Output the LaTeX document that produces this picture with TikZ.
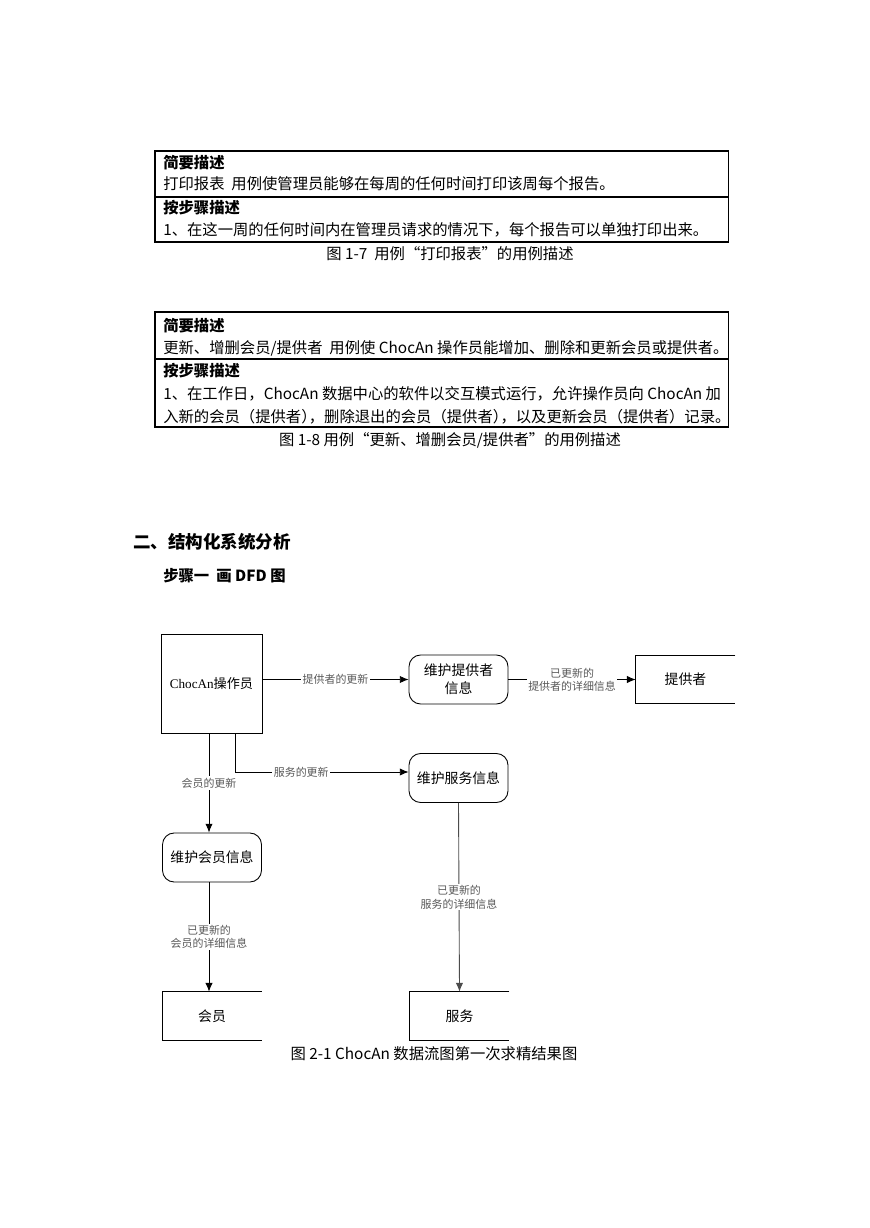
\documentclass[tikz,border=0pt]{standalone}
\usepackage{fontspec}
\setmainfont{Noto Sans CJK SC}
\newfontfamily\latinserif{Liberation Serif}
\usepackage{tikz}
\usetikzlibrary{shapes,arrows,arrows.meta}
\usetikzlibrary{calc,positioning}
\tikzset{
        tbl/.style = {draw, line width=0.7pt},
        txt/.style = {anchor=base west, inner sep=0pt,
            font=\fontsize{10.5}{12}\selectfont},
        figcaption/.style = {anchor=base, inner sep=0pt,
            font=\fontsize{10.5}{12}\selectfont},
        entity/.style = {draw, rectangle, line width=0.6pt,
            minimum width=69.2pt,
            minimum height=67.8pt,
            font=\fontsize{9}{11}\selectfont},
        process/.style = {draw, rectangle, rounded corners=8pt, line width=0.6pt,
            minimum width=67.8pt,
            minimum height=33.6pt, align=center,
            font=\fontsize{9.5}{12}\selectfont},
        store/.style = {rectangle, minimum width=67.8pt,
            minimum height=32.9pt,
            font=\fontsize{9.5}{12}\selectfont},
        arrow/.style={draw, -{Latex[length=6pt,width=5pt]}, line width=0.6pt},
        flow/.style = {fill=white, inner sep=1pt, align=center,
            text=black!65, font=\fontsize{7.5}{9}\selectfont},
    }
\newcommand{\pk}{\kern-0.5em}

\begin{document}
\begin{tikzpicture}[x=0.685pt,y=-0.685pt]
    \useasboundingbox[fill=white] (0,0) rectangle (869,1228);

    % table 1-7
    \draw[tbl] (155,151) rectangle (728,242);
    \draw[tbl] (155,197) -- (728,197);
    \node[txt] (briefa) at (163,169) {\textbf{简要描述}};
    \node[txt] (brieftexta) at (163,190) {打印报表\ \ 用例使管理员能够在每周的任何时间打印该周每个报告。};
    \node[txt] (stepsa) at (163,214) {\textbf{按步骤描述}};
    \node[txt] (stepstexta) at (163,236) {1、在这一周的任何时间内在管理员请求的情况下，每个报告可以单独打印出来。};
    \node[figcaption] (capa) at (450,260) {图 1-7\ \ 用例“打印报表”的用例描述};

    % table 1-8
    \draw[tbl] (155,312) rectangle (728,427);
    \draw[tbl] (155,359) -- (728,359);
    \node[txt] (briefb) at (163,331) {\textbf{简要描述}};
    \node[txt] (brieftextb) at (163,353) {更新、增删会员/提供者\ \ 用例使 ChocAn 操作员能增加、删除和更新会员或提供者。};
    \node[txt] (stepsb) at (163,376) {\textbf{按步骤描述}};
    \node[txt] (stepstextb) at (163,399) {1、在工作日，ChocAn 数据中心的软件以交互模式运行，允许操作员向 ChocAn 加};
    \node[txt] (stepstextc) at (163,422) {入新的会员（提供者）\pk，删除退出的会员（提供者）\pk，以及更新会员（提供者）记录。};
    \node[figcaption] (capb) at (450,445) {图 1-8 用例“更新、增删会员/提供者”的用例描述};

    % headings
    \node[anchor=base west, inner sep=0pt, font=\fontsize{12}{14}\selectfont\bfseries] (sect) at (133,548) {二、结构化系统分析};
    \node[anchor=base west, inner sep=0pt, font=\fontsize{10.5}{12}\selectfont\bfseries] (stepone) at (163,581) {步骤一\ \ 画 DFD 图};

    % DFD
    \node[entity] (op) at (211.5,683.5) {{\latinserif ChocAn}操作员};
    \node[process] (pprov) at (458.5,679.5) {维护提供者\\信息};
    \node[store] (sprov) at (685.5,679.5) {提供者};
    \node[process] (pserv) at (458.5,778) {维护服务信息};
    \node[process] (pmem) at (212,857.5) {维护会员信息};
    \node[store] (smem) at (212,1016) {会员};
    \node[store] (sserv) at (459.5,1016) {服务};

    \foreach \s in {sprov,smem,sserv}
        \draw[line width=0.6pt] (\s.north east) -- (\s.north west) -- (\s.south west) -- (\s.south east);

    \coordinate (opl) at ($(op.south)+(-2.5,0)$);
    \coordinate (opr) at ($(op.south)+(24,0)$);
    \coordinate (pservin) at ($(pserv.west)+(0,-6)$);

    \draw[arrow] (op.east |- pprov.west) -- node[flow] {提供者的更新} (pprov.west);
    \draw[arrow] (pprov.east) -- node[flow] {已更新的\\提供者的详细信息} (sprov.west);
    \draw[arrow] (opr) |- node[flow, pos=0.69] {服务的更新} (pservin);
    \draw[arrow] (opl) -- node[flow] {会员的更新} (opl |- pmem.north);
    \draw[arrow] (pmem.south -| opl) -- node[flow] {已更新的\\会员的详细信息} (smem.north -| opl);
    \draw[arrow, draw=black!70] (pserv.south) -- node[flow] {已更新的\\服务的详细信息} (sserv.north);

    \node[figcaption] (capc) at (434,1059) {图 2-1 ChocAn 数据流图第一次求精结果图};
\end{tikzpicture}
\end{document}
